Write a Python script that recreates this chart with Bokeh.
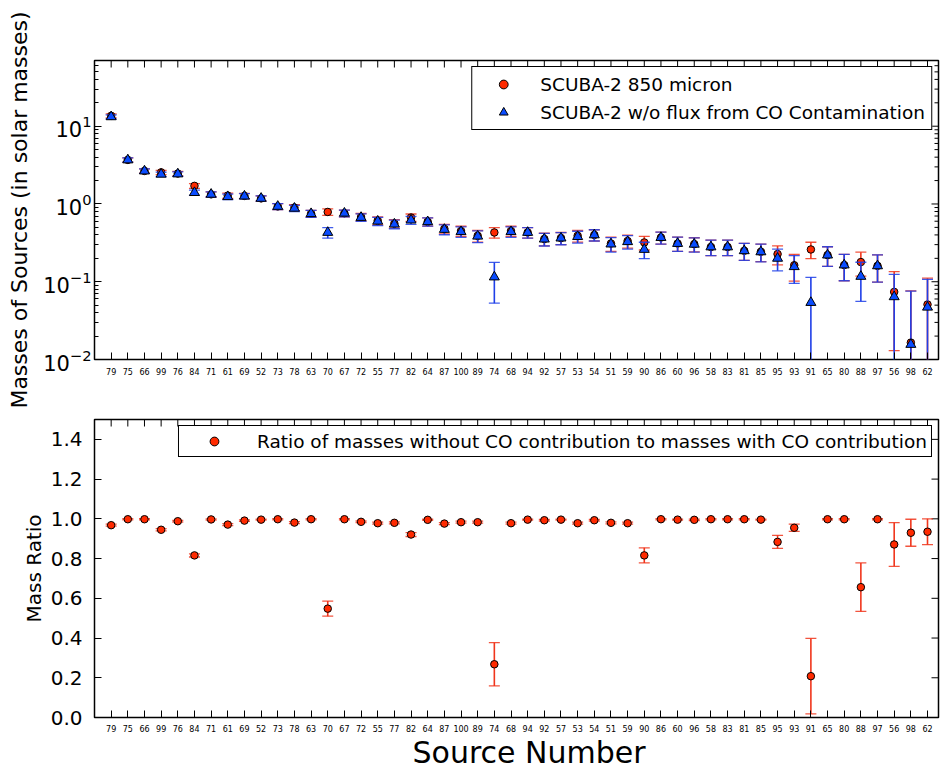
import numpy as np
from bokeh.plotting import figure
from bokeh.models import (ColumnDataSource, FixedTicker, Range1d, Legend, LegendItem, Title,
                          PrintfTickFormatter)
from bokeh.layouts import column
from bokeh.embed import file_html
from bokeh.resources import INLINE

# ---------------- data ----------------
sources = [79, 75, 66, 99, 76, 84, 71, 61, 69, 52, 73, 78, 63, 70, 67, 72, 55, 77, 82, 64,
           87, 100, 89, 74, 68, 94, 92, 57, 53, 54, 51, 59, 90, 86, 60, 96, 58, 83, 81, 85,
           95, 93, 91, 65, 80, 88, 97, 56, 98, 62]

mass_co = [13.6, 3.69, 2.66, 2.55, 2.46, 1.71, 1.33, 1.28, 1.27, 1.18,
           0.93, 0.90, 0.75, 0.79, 0.76, 0.68, 0.61, 0.56, 0.67, 0.59,
           0.48, 0.45, 0.39, 0.43, 0.45, 0.43, 0.355, 0.365, 0.39, 0.40,
           0.31, 0.334, 0.32, 0.37, 0.31, 0.305, 0.28, 0.28, 0.25, 0.243,
           0.227, 0.163, 0.26, 0.22, 0.164, 0.179, 0.16, 0.074, 0.0165, 0.051]
mass_co_err = [0.82, 0.23, 0.17, 0.16, 0.16, 0.12, 0.10, 0.10, 0.10, 0.09,
               0.083, 0.08, 0.076, 0.077, 0.076, 0.074, 0.072, 0.07, 0.073, 0.071,
               0.068, 0.067, 0.066, 0.067, 0.067, 0.067, 0.065, 0.065, 0.066, 0.066,
               0.064, 0.064, 0.064, 0.065, 0.064, 0.063, 0.063, 0.063, 0.062, 0.062,
               0.062, 0.061, 0.062, 0.062, 0.061, 0.061, 0.061, 0.061, 0.06, 0.06]

mass_noco = [13.2, 3.68, 2.65, 2.41, 2.43, 1.40, 1.33, 1.24, 1.26, 1.18,
             0.93, 0.88, 0.75, 0.43, 0.76, 0.67, 0.60, 0.55, 0.62, 0.59,
             0.47, 0.44, 0.385, 0.115, 0.44, 0.43, 0.353, 0.364, 0.38, 0.40,
             0.305, 0.327, 0.26, 0.37, 0.31, 0.303, 0.28, 0.28, 0.25, 0.242,
             0.20, 0.156, 0.054, 0.22, 0.164, 0.117, 0.16, 0.064, 0.0156, 0.047]
mass_noco_err = [0.80, 0.23, 0.17, 0.16, 0.16, 0.11, 0.10, 0.10, 0.10, 0.09,
                 0.083, 0.08, 0.076, 0.067, 0.076, 0.074, 0.072, 0.07, 0.072, 0.071,
                 0.068, 0.067, 0.066, 0.062, 0.067, 0.067, 0.065, 0.065, 0.066, 0.066,
                 0.064, 0.064, 0.062, 0.065, 0.064, 0.063, 0.063, 0.063, 0.062, 0.062,
                 0.062, 0.061, 0.06, 0.062, 0.061, 0.061, 0.061, 0.06, 0.06, 0.06]

ratio = [0.968, 0.998, 0.998, 0.945, 0.988, 0.816, 0.997, 0.971, 0.991, 0.996,
         0.998, 0.981, 0.998, 0.548, 0.998, 0.985, 0.978, 0.980, 0.921, 0.995,
         0.976, 0.983, 0.983, 0.268, 0.978, 0.996, 0.993, 0.996, 0.978, 0.993,
         0.980, 0.978, 0.816, 0.998, 0.996, 0.995, 0.998, 0.998, 0.998, 0.996,
         0.884, 0.955, 0.208, 0.998, 0.998, 0.656, 0.998, 0.871, 0.930, 0.935]
ratio_err = [0.005, 0.003, 0.003, 0.006, 0.004, 0.008, 0.003, 0.005, 0.004, 0.003,
             0.003, 0.005, 0.003, 0.038, 0.003, 0.004, 0.005, 0.005, 0.010, 0.003,
             0.005, 0.005, 0.005, 0.109, 0.005, 0.003, 0.004, 0.003, 0.005, 0.004,
             0.005, 0.005, 0.038, 0.003, 0.003, 0.004, 0.003, 0.003, 0.003, 0.003,
             0.033, 0.018, 0.190, 0.003, 0.003, 0.122, 0.003, 0.110, 0.068, 0.065]

log_major = [0.01, 0.1, 1, 10]
log_minor = [m * d for d in [0.01, 0.1, 1, 10] for m in range(2, 8 if d == 10 else 10)]
ratio_ticks = [0.0, 0.2, 0.4, 0.6, 0.8, 1.0, 1.2, 1.4]

pos = list(range(1, len(sources) + 1))
tick_labels = {i: str(s) for i, s in zip(pos, sources)}

XMIN, XMAX = 0, 50.66
TOP_YMIN, TOP_YMAX = 0.01, 70
BOT_YMIN, BOT_YMAX = 0, 1.5

FONT = "DejaVu Sans"
RED = "#ff2a00"
RED_ERR = "#f0361c"
BLUE = "#0a4cff"
BLUE_ERR = "#1f3fe8"


def err_source(vals, errs, floor=None):
    v = np.array(vals)
    e = np.array(errs)
    lo = v - e
    if floor is not None:
        lo = np.maximum(lo, floor)
    return ColumnDataSource(dict(x=pos, y=v, lo=lo, hi=v + e))


def style_axis(ax, label_size):
    ax.axis_line_color = None
    ax.major_tick_in = 7
    ax.major_tick_out = 0
    ax.minor_tick_in = 4
    ax.minor_tick_out = 0
    ax.major_tick_line_color = "black"
    ax.minor_tick_line_color = "black"
    ax.major_label_text_font = FONT
    ax.major_label_text_color = "black"
    ax.major_label_text_font_size = label_size
    ax.axis_label_text_color = "black"
    ax.axis_label_text_font = FONT
    ax.axis_label_text_font_style = "normal"


def mirror_ticks(p, ymax, xmax, yticks_major, yticks_minor):
    # tick marks on the top and right edges (half of each dash is clipped by the frame)
    p.scatter(x=pos, y=[ymax] * len(pos), marker="dash", angle=np.pi / 2, size=14,
              line_color="black", line_width=1)
    p.scatter(x=[xmax] * len(yticks_major), y=yticks_major, marker="dash", size=14,
              line_color="black", line_width=1)
    if yticks_minor:
        p.scatter(x=[xmax] * len(yticks_minor), y=yticks_minor, marker="dash", size=8,
                  line_color="black", line_width=1)


def draw_err(p, src, color):
    p.segment(x0="x", y0="lo", x1="x", y1="hi", source=src, line_color=color, line_width=1.6)
    p.scatter(x="x", y="hi", source=src, marker="dash", size=11, line_color=color,
              line_width=1.3, line_alpha=0.85)
    p.scatter(x="x", y="lo", source=src, marker="dash", size=11, line_color=color,
              line_width=1.3, line_alpha=0.85)


def style_legend(leg, glyph_w, pad):
    leg.label_text_font = FONT
    leg.label_text_font_size = "18.5px"
    leg.label_text_color = "black"
    leg.border_line_color = "black"
    leg.border_line_alpha = 1.0
    leg.border_line_width = 1.5
    leg.glyph_width = glyph_w
    leg.glyph_height = 22
    leg.label_height = 22
    leg.label_standoff = 12
    leg.padding = pad
    leg.spacing = 6
    leg.margin = 6


# ---------------- top panel ----------------
top = figure(frame_width=844, frame_height=299, x_range=Range1d(XMIN, XMAX),
             y_range=Range1d(TOP_YMIN, TOP_YMAX), y_axis_type="log",
             output_backend="svg", toolbar_location=None,
             min_border_left=94, min_border_right=7, min_border_top=60, min_border_bottom=58)
top.grid.visible = False
top.outline_line_color = "black"
top.outline_line_width = 1.5

top.xaxis.ticker = FixedTicker(ticks=pos)
top.xaxis.major_label_overrides = tick_labels
style_axis(top.xaxis[0], "8px")
top.xaxis.major_label_standoff = 8

top.yaxis.ticker = FixedTicker(ticks=log_major, minor_ticks=log_minor)
style_axis(top.yaxis[0], "21px")
top.yaxis.major_label_standoff = 3
top.yaxis.axis_label = "Masses of Sources (in solar masses)"
top.yaxis.axis_label_text_font_size = "22px"
top.yaxis.axis_label_standoff = 8

mirror_ticks(top, TOP_YMAX, XMAX, log_major, log_minor)

src_co = err_source(mass_co, mass_co_err, floor=1e-4)
src_noco = err_source(mass_noco, mass_noco_err, floor=1e-4)

draw_err(top, src_co, RED_ERR)
r_co = top.scatter(x="x", y="y", source=src_co, marker="circle", size=7.5,
                   fill_color=RED, line_color="black", line_width=1)
draw_err(top, src_noco, BLUE_ERR)
r_noco = top.scatter(x="x", y="y", source=src_noco, marker="triangle", size=10,
                     fill_color=BLUE, line_color="black", line_width=1)

leg_top = Legend(items=[LegendItem(label="SCUBA-2 850 micron", renderers=[r_co]),
                        LegendItem(label="SCUBA-2 w/o flux from CO Contamination", renderers=[r_noco])],
                 location="top_right")
style_legend(leg_top, 50, 6)
top.add_layout(leg_top)

# ---------------- bottom panel ----------------
bot = figure(frame_width=844, frame_height=298, x_range=Range1d(XMIN, XMAX),
             y_range=Range1d(BOT_YMIN, BOT_YMAX),
             output_backend="svg", toolbar_location=None,
             min_border_left=94, min_border_right=7, min_border_top=2, min_border_bottom=54)
bot.grid.visible = False
bot.outline_line_color = "black"
bot.outline_line_width = 1.5

bot.xaxis.ticker = FixedTicker(ticks=pos)
bot.xaxis.major_label_overrides = tick_labels
style_axis(bot.xaxis[0], "8px")
bot.xaxis.major_label_standoff = 7

bot.yaxis.ticker = FixedTicker(ticks=ratio_ticks)
bot.yaxis.formatter = PrintfTickFormatter(format="%.1f")
style_axis(bot.yaxis[0], "20px")
bot.yaxis.major_label_standoff = 12
bot.yaxis.axis_label = "Mass Ratio"
bot.yaxis.axis_label_text_font_size = "20px"
bot.yaxis.axis_label_standoff = 2

bot.add_layout(Title(text="Source Number", align="left", offset=318,
                     text_font=FONT, text_font_size="30px", text_font_style="normal",
                     text_color="black", standoff=0, vertical_align="top"), "below")

mirror_ticks(bot, BOT_YMAX, XMAX, ratio_ticks, [])

src_ratio = err_source(ratio, ratio_err)
draw_err(bot, src_ratio, RED_ERR)
r_ratio = bot.scatter(x="x", y="y", source=src_ratio, marker="circle", size=7.5,
                      fill_color=RED, line_color="black", line_width=1)

leg_bot = Legend(items=[LegendItem(label="Ratio of masses without CO contribution to masses with CO contribution",
                                   renderers=[r_ratio])],
                 location="top_right")
style_legend(leg_bot, 62, 4)
bot.add_layout(leg_bot)

layout = column(top, bot, spacing=0)
open("out.html", "w").write(file_html(layout, INLINE))
